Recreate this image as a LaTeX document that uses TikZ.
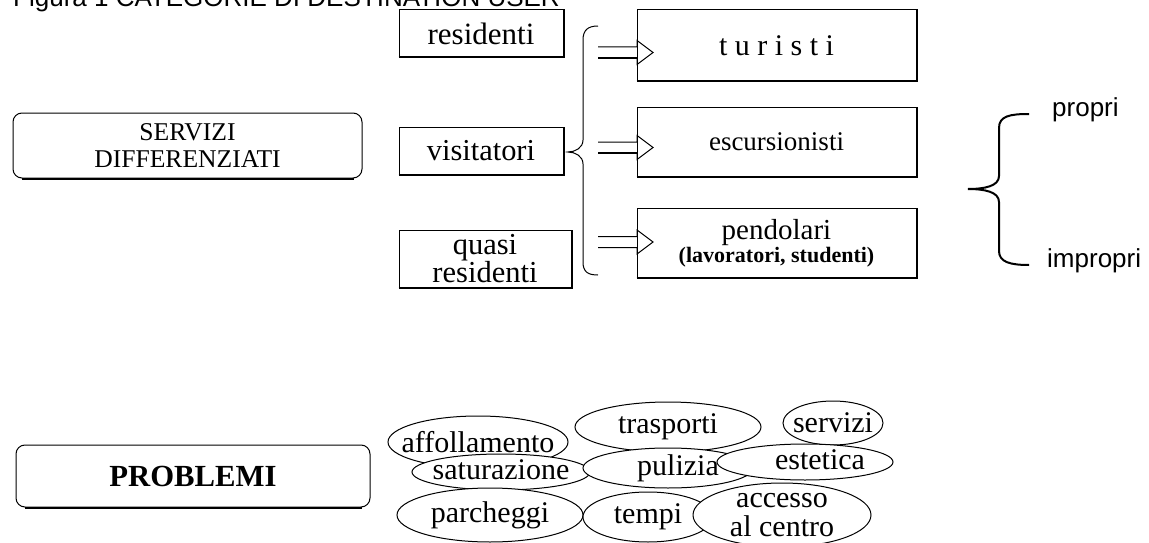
\documentclass[tikz,border=0pt]{standalone}
\usepackage{fontspec}
\setmainfont{Liberation Serif}
\newfontfamily\sansf{Liberation Sans}
\usetikzlibrary{shapes.geometric}
\newcommand\myfs[2]{\fontsize{#1}{#2}\selectfont}
\begin{document}
\begin{tikzpicture}[x=1pt,y=-1pt,
  box/.style={draw,line width=1pt,rectangle,inner sep=0pt,align=center},
  rbox/.style={box,rounded corners=9pt},
  ell/.style={draw,ellipse,fill=white,line width=1pt,inner sep=0pt},
  shadeline/.style={line width=2pt},
  thinbrace/.style={line width=1pt},
  thickbrace/.style={line width=2pt},
  sanstext/.style={font=\sansf\myfs{26}{26}},
  hollowarrow/.pic={\draw[line width=1pt] (-55,-5.5) -- (-16,-5.5) -- (-16,-12) -- (0,0) -- (-16,12) -- (-16,5.5) -- (-55,5.5);
                    \draw[line width=1.8pt] (-55,5.5) -- (-16,5.5);},
  ]
\useasboundingbox (0,0) rectangle (1149,543);
\clip (0,0) rectangle (1149,543);

% title
\node[sanstext,anchor=base west,inner sep=0pt] (title) at (13,6.5) {Figura 1 CATEGORIE DI DESTINATION USER};

% left rounded boxes
\node[rbox,minimum width=349pt,minimum height=65pt,font=\myfs{25.6}{27}] (serv) at (187.5,145.5) {SERVIZI\\DIFFERENZIATI};
\draw[shadeline] ([xshift=9pt]serv.south west) -- ([xshift=-9pt]serv.south east);
\node[rbox,minimum width=354pt,minimum height=62pt,font=\bfseries\myfs{30.7}{30}] (prob) at (193,476) {PROBLEMI};
\draw[shadeline] ([xshift=9pt]prob.south west) -- ([xshift=-9pt]prob.south east);

% middle boxes
\node[box,minimum width=164pt,minimum height=47pt,font=\myfs{31}{31}] (res) at (481,33.5) {residenti};
\node[box,minimum width=164pt,minimum height=47pt,font=\myfs{30.4}{30}] (vis) at (481,150.5) {visitatori};
\node[box,minimum width=172pt,minimum height=57pt,font=\myfs{30.5}{24}] (qres) at (485,258.5) {quasi\\residenti};
\foreach \n in {res,vis,qres}{\draw[shadeline] (\n.south west) -- (\n.south east) -- (\n.north east);}

% right boxes
\node[box,minimum width=279pt,minimum height=71pt,font=\myfs{30}{30}] (tur) at (776.5,45.5) {t u r i s t i};
\node[box,minimum width=279pt,minimum height=69pt,font=\myfs{27}{27}] (esc) at (776.5,141.5) {escursionisti};
\node[box,minimum width=279pt,minimum height=69pt] (pen) at (776.5,243) {{\myfs{29}{20}pendolari}\\[1pt]{\bfseries\myfs{22}{20}(lavoratori, studenti)}};
\foreach \n in {tur,esc,pen}{\draw[shadeline] (\n.south west) -- (\n.south east) -- (\n.north east);}

% left brace
\coordinate (lb) at (568,152);
\draw[thinbrace] (598,26) .. controls (588,26) and (583,30) .. (583,40) -- (583,140) .. controls (583,148) and (575,152) .. (lb)
  .. controls (575,152) and (583,156) .. (583,164) -- (583,262) .. controls (583,272) and (588,275) .. (598,275);

% hollow arrows into the right boxes
\coordinate (a1) at (653,52.5);
\coordinate (a2) at (653,147.5);
\coordinate (a3) at (653,242);
\pic at (a1) {hollowarrow};
\pic at (a2) {hollowarrow};
\pic at (a3) {hollowarrow};

% right brace and labels
\node[sanstext,anchor=base west,inner sep=0pt] (propri) at (1052,117) {propri};
\node[sanstext,anchor=base west,inner sep=0pt] (impropri) at (1047,267) {impropri};
\coordinate (rb) at (968,189);
\draw[thickbrace] (1029,114) .. controls (1010,114) and (999,116) .. (999,128) -- (999,176) .. controls (999,186) and (985,189) .. (rb)
  .. controls (985,189) and (999,192) .. (999,202) -- (999,251) .. controls (999,262) and (1010,265) .. (1029,265);

% problem ellipses
\node[ell,minimum width=180pt,minimum height=52pt,label={[font=\myfs{30}{30}]center:affollamento}] (aff) at (478,442) {};
\node[ell,minimum width=186pt,minimum height=50pt,label={[font=\myfs{30}{30}]center:trasporti}] (tra) at (668,427) {};
\node[ell,minimum width=100pt,minimum height=44pt,label={[font=\myfs{30}{30}]center:servizi}] (ser) at (833,423) {};
\node[ell,minimum width=178pt,minimum height=36pt,label={[font=\myfs{30}{30},yshift=2pt]center:saturazione}] (sat) at (501,472) {};
\node[ell,minimum width=170pt,minimum height=40pt,label={[font=\myfs{30}{30},xshift=10pt]center:pulizia}] (pul) at (668,468) {};
\node[ell,minimum width=176pt,minimum height=36pt,label={[font=\myfs{30}{30},xshift=15pt,yshift=2pt]center:estetica}] (est) at (805,462) {};
\node[ell,minimum width=186pt,minimum height=54pt,label={[font=\myfs{30}{30}]center:parcheggi}] (par) at (490,515) {};
\node[ell,minimum width=130pt,minimum height=50pt,label={[font=\myfs{30}{30}]center:tempi}] (tem) at (648,517) {};
\node[ell,minimum width=178pt,minimum height=64pt,label={[font=\myfs{30}{29},align=center]center:accesso\\al centro}] (acc) at (782,515) {};
\end{tikzpicture}
\end{document}
